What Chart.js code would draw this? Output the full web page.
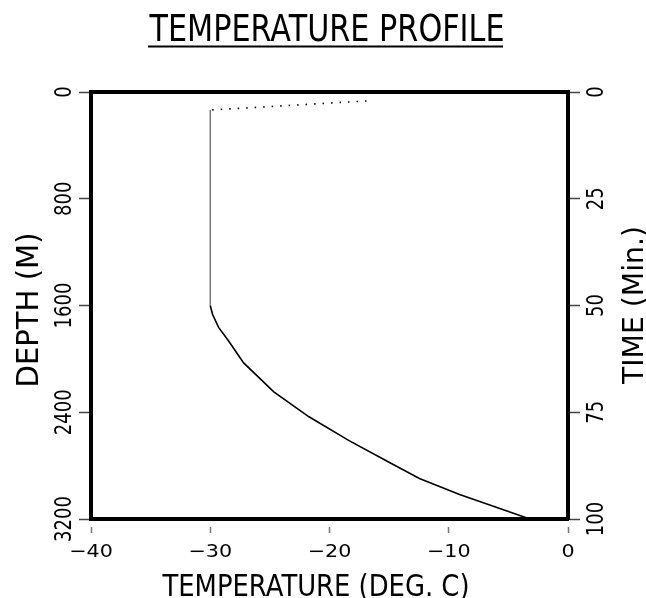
<!DOCTYPE html>
<html>
<head>
<meta charset="utf-8">
<script src="https://cdn.jsdelivr.net/npm/chart.js@4.4.1/dist/chart.umd.min.js"></script>
<style>
  html, body { margin: 0; padding: 0; background: #fff; }
  #wrap { width: 646px; height: 598px; position: relative; }
</style>
</head>
<body>
<div id="wrap"><canvas id="c" width="646" height="598"></canvas></div>
<script>
// ---- data ----
const chartTitle = 'TEMPERATURE PROFILE';
const xTitle = 'TEMPERATURE (DEG. C)';
const yTitle = 'DEPTH (M)';
const y2Title = 'TIME (Min.)';

const depthTicks = [0, 800, 1600, 2400, 3200];
const timeTicks = [0, 25, 50, 75, 100];
const tempTicks = [-40, -30, -20, -10, 0];

const depth = [67, 135, 1600, 1666, 1764, 1866, 2030, 2247, 2434, 2613, 2763, 2897, 3017, 3121, 3200];
const temperature = [-16.9, -30.0, -30.0, -29.81, -29.3, -28.46, -27.2, -24.67, -21.72, -18.36, -15.24, -12.46, -9.09, -5.72, -3.2];

const FONT = '"DejaVu Sans", sans-serif';
const minus = v => (v < 0 ? '\u2212' + Math.abs(v) : String(v));

const points = temperature.map((t, i) => ({ x: t, y: depth[i] }));

// draw text centred at (cx, cy-of-caps); length scaled to `len` (or by factor), glyph height by hs
function drawText(ctx, text, cx, cy, size, opts) {
  ctx.save();
  ctx.font = size + 'px ' + FONT;
  const w = ctx.measureText(text).width;
  const sx = opts.len ? opts.len / w : (opts.sx || 1);
  const hs = opts.hs || 1;
  ctx.translate(cx, cy);
  if (opts.rot) ctx.rotate(-Math.PI / 2);
  ctx.scale(sx, hs);
  ctx.textAlign = 'center';
  ctx.textBaseline = 'alphabetic';
  ctx.fillText(text, 0, 0.365 * size);
  ctx.restore();
}

const textPlugin = {
  id: 'texts',
  afterDraw(chart) {
    const ctx = chart.ctx;
    const ys = chart.scales.y, y2s = chart.scales.y2, xs = chart.scales.x;
    ctx.save();
    ctx.fillStyle = '#000';
    // title + underline
    drawText(ctx, chartTitle, 327, 27, 37, { len: 355 });
    ctx.strokeStyle = '#000';
    ctx.lineWidth = 2;
    ctx.beginPath(); ctx.moveTo(148, 46.5); ctx.lineTo(503, 46.5); ctx.stroke();
    // x tick labels
    xs.ticks.forEach(t => {
      drawText(ctx, minus(t.value), xs.getPixelForValue(t.value), 550.5, 18, { sx: 1.15 });
    });
    // rotated y tick labels
    ys.ticks.forEach(t => {
      drawText(ctx, String(t.value), 63, ys.getPixelForValue(t.value), 18, { rot: true, hs: 1.25 });
    });
    y2s.ticks.forEach(t => {
      drawText(ctx, String(t.value), 595, y2s.getPixelForValue(t.value), 18, { rot: true, hs: 1.25 });
    });
    // axis titles
    drawText(ctx, yTitle, 27, 310, 31, { rot: true, len: 155 });
    drawText(ctx, y2Title, 632, 305, 29, { rot: true, len: 158 });
    drawText(ctx, xTitle, 316, 584.5, 31, { len: 307 });
    ctx.restore();
  }
};

const tickGrid = (len, dash) => ({
  drawOnChartArea: false, drawTicks: true, tickLength: len,
  color: '#444', tickWidth: 1.5, tickBorderDash: dash || []
});

new Chart(document.getElementById('c'), {
  type: 'scatter',
  data: {
    datasets: [{
      data: points,
      showLine: true,
      pointRadius: 0,
      borderColor: '#000',
      borderWidth: 1.6,
      tension: 0,
      segment: {
        borderDash: c => (c.p0DataIndex === 0 ? [1.5, 7] : c.p0DataIndex === 1 ? [60, 3] : undefined),
        borderColor: c => (c.p0DataIndex === 1 ? '#666' : '#000'),
        borderWidth: c => (c.p0DataIndex === 1 ? 1.3 : 1.6)
      }
    }]
  },
  options: {
    responsive: false,
    animation: false,
    devicePixelRatio: 1,
    layout: { padding: 0 },
    plugins: { legend: { display: false }, tooltip: { enabled: false }, title: { display: false } },
    scales: {
      x: {
        type: 'linear', position: 'bottom', min: -40, max: 0,
        afterBuildTicks: s => { s.ticks = tempTicks.map(v => ({ value: v })); },
        ticks: { display: false },
        grid: Object.assign(tickGrid(14, [0, 6, 8]), { color: '#777' }),
        border: { display: true, width: 4, color: '#000' },
        afterFit: s => { s.height = 79; }
      },
      xTop: {
        type: 'linear', position: 'top', min: -40, max: 0,
        ticks: { display: false },
        grid: { display: false },
        border: { display: true, width: 4, color: '#000' },
        afterFit: s => { s.height = 92; }
      },
      y: {
        type: 'linear', position: 'left', min: 0, max: 3200, reverse: true,
        afterBuildTicks: s => { s.ticks = depthTicks.map(v => ({ value: v })); },
        ticks: { display: false },
        grid: tickGrid(12),
        border: { display: true, width: 4, color: '#000' },
        afterFit: s => { s.width = 91; }
      },
      y2: {
        type: 'linear', position: 'right', min: 0, max: 100, reverse: true,
        afterBuildTicks: s => { s.ticks = timeTicks.map(v => ({ value: v })); },
        ticks: { display: false },
        grid: tickGrid(12),
        border: { display: true, width: 4, color: '#000' },
        afterFit: s => { s.width = 78; }
      }
    }
  },
  plugins: [textPlugin]
});
</script>
</body>
</html>
